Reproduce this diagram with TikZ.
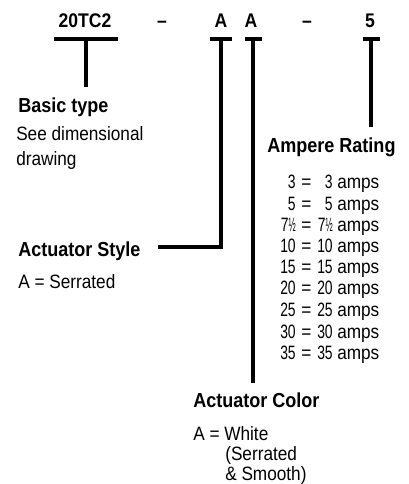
\documentclass[tikz,border=0pt]{standalone}
\usepackage{fontspec}
\setmainfont{Liberation Sans}[FakeStretch=0.89]
\newfontfamily\numfont{Liberation Sans}[FakeStretch=0.72]
\newcommand\myhalf{\scalebox{0.62}[1]{½}}
\begin{document}
\begin{tikzpicture}[x=0.75pt,y=-0.75pt,
  txt/.style={inner sep=0pt,anchor=base west,font=\fontsize{14.5}{17}\selectfont},
  ttl/.style={inner sep=0pt,anchor=base west,font=\fontsize{15.2}{18}\selectfont\bfseries},
  num/.style={inner sep=0pt,anchor=base east,font=\fontsize{14.5}{17}\selectfont\numfont},
  head/.style={inner sep=0pt,anchor=base,font=\fontsize{14.8}{17}\selectfont\bfseries},
  bar/.style={line width=2.3pt},
  conn/.style={line width=2.3pt}]
\useasboundingbox (0,0) rectangle (409,484);
% header
\node[head] (code) at (85,28) {20TC2};
\node[head] (d1) at (162,28) {–};
\node[head] (a1) at (221,28) {A};
\node[head] (a2) at (251,28) {A};
\node[head] (d2) at (307,28) {–};
\node[head] (amp) at (370,28) {5};
% bars
\coordinate (b0l) at (54,39); \coordinate (b0r) at (118,39); \coordinate (b0) at (86,39);
\coordinate (b1l) at (210,39); \coordinate (b1r) at (232,39); \coordinate (b1) at (221,39);
\coordinate (b2l) at (245,39); \coordinate (b2r) at (262,39); \coordinate (b2) at (253,39);
\coordinate (b3l) at (363,39); \coordinate (b3r) at (380,39); \coordinate (b3) at (371,39);
\draw[bar] (b0l) -- (b0r);
\draw[bar] (b1l) -- (b1r);
\draw[bar] (b2l) -- (b2r);
\draw[bar] (b3l) -- (b3r);
% labels
\node[ttl] (basic) at (18,113) {Basic type};
\node[txt] (basic1) at (16,141) {See dimensional};
\node[txt] (basic2) at (16,166) {drawing};
\node[ttl] (style) at (18,256) {Actuator Style};
\node[txt] (style1) at (18,288) {A = Serrated};
\node[ttl] (rating) at (267,153) {Ampere Rating};
\node[ttl] (color) at (193,407) {Actuator Color};
\node[txt] (color1) at (193,440) {A = White};
\node[txt] (color2) at (225,460) {(Serrated};
\node[txt] (color3) at (225,480) {\& Smooth)};
% ampere list
\foreach \v/\y [count=\i] in {3/189,5/210,7\myhalf/231,10/252,15/273,20/294,25/316,30/338,35/359}{
  \node[num] (l\i) at (296,\y) {\v};
  \node[txt] (e\i) at (301,\y) {=};
  \node[num] (r\i) at (333,\y) {\v};
  \node[txt] (u\i) at (337,\y) {amps};
}
% connectors
\coordinate (c0) at (86,87);
\coordinate (c1) at (221,247);
\coordinate (c1e) at (158,247);
\coordinate (c2) at (253,383);
\coordinate (c3) at (371,127);
\draw[conn] (b0) -- (c0);
\draw[conn] (b1) -- (c1) -- (c1e);
\draw[conn] (b2) -- (c2);
\draw[conn] (b3) -- (c3);
\end{tikzpicture}
\end{document}
